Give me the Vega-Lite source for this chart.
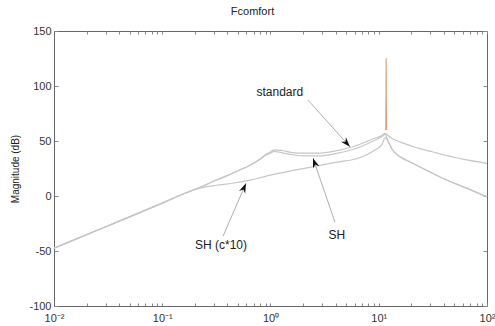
{
  "$schema": "https://vega.github.io/schema/vega-lite/v6.json",
  "width": 433,
  "height": 275,
  "autosize": "none",
  "padding": {"left": 54, "top": 31, "right": 8, "bottom": 20},
  "background": "white",
  "title": {"text": "Fcomfort", "fontSize": 11, "fontWeight": "normal", "font": "Liberation Sans", "color": "#222", "anchor": "middle", "dx": -18, "offset": 8},
  "config": {
    "view": {"stroke": "#666", "strokeWidth": 1},
    "font": "Liberation Sans",
    "axis": {"labelFont": "Liberation Sans", "labelFontSize": 10, "labelColor": "#333", "tickColor": "#888", "domainColor": "#666", "grid": false, "titleFont": "Liberation Sans", "titleFontWeight": "normal", "titleFontSize": 10, "titleColor": "#222"}
  },
  "datasets": {
    "curves": [
      {"series": "standard", "f": 0.01, "dB": -47.5},
      {"series": "standard", "f": 0.0316, "dB": -27},
      {"series": "standard", "f": 0.1, "dB": -6.5},
      {"series": "standard", "f": 0.158, "dB": 2},
      {"series": "standard", "f": 0.224, "dB": 8},
      {"series": "standard", "f": 0.316, "dB": 14.5},
      {"series": "standard", "f": 0.398, "dB": 18.5},
      {"series": "standard", "f": 0.501, "dB": 23},
      {"series": "standard", "f": 0.646, "dB": 28},
      {"series": "standard", "f": 0.794, "dB": 33.5},
      {"series": "standard", "f": 0.9, "dB": 37.5},
      {"series": "standard", "f": 1.0, "dB": 40},
      {"series": "standard", "f": 1.072, "dB": 42},
      {"series": "standard", "f": 1.259, "dB": 41.5},
      {"series": "standard", "f": 1.585, "dB": 39.5},
      {"series": "standard", "f": 1.995, "dB": 39},
      {"series": "standard", "f": 2.818, "dB": 39},
      {"series": "standard", "f": 3.981, "dB": 41},
      {"series": "standard", "f": 5.623, "dB": 44.5},
      {"series": "standard", "f": 7.079, "dB": 48},
      {"series": "standard", "f": 8.913, "dB": 52},
      {"series": "standard", "f": 10.72, "dB": 55},
      {"series": "standard", "f": 11.48, "dB": 57},
      {"series": "standard", "f": 12.16, "dB": 55},
      {"series": "standard", "f": 13.18, "dB": 52.5},
      {"series": "standard", "f": 15.85, "dB": 49},
      {"series": "standard", "f": 19.95, "dB": 45.5},
      {"series": "standard", "f": 23.99, "dB": 43},
      {"series": "standard", "f": 31.62, "dB": 40},
      {"series": "standard", "f": 39.81, "dB": 37.5},
      {"series": "standard", "f": 50.12, "dB": 35},
      {"series": "standard", "f": 63.1, "dB": 33},
      {"series": "standard", "f": 100, "dB": 29.6},
      {"series": "SH", "f": 0.01, "dB": -47.5},
      {"series": "SH", "f": 0.0316, "dB": -27},
      {"series": "SH", "f": 0.1, "dB": -6.5},
      {"series": "SH", "f": 0.158, "dB": 2},
      {"series": "SH", "f": 0.224, "dB": 8},
      {"series": "SH", "f": 0.316, "dB": 14.5},
      {"series": "SH", "f": 0.398, "dB": 18.5},
      {"series": "SH", "f": 0.501, "dB": 23},
      {"series": "SH", "f": 0.646, "dB": 28},
      {"series": "SH", "f": 0.794, "dB": 33},
      {"series": "SH", "f": 0.9, "dB": 37},
      {"series": "SH", "f": 1.0, "dB": 39},
      {"series": "SH", "f": 1.072, "dB": 40.5},
      {"series": "SH", "f": 1.259, "dB": 39.5},
      {"series": "SH", "f": 1.585, "dB": 37.5},
      {"series": "SH", "f": 1.995, "dB": 36.5},
      {"series": "SH", "f": 2.818, "dB": 36.5},
      {"series": "SH", "f": 3.981, "dB": 38.5},
      {"series": "SH", "f": 5.623, "dB": 42},
      {"series": "SH", "f": 7.079, "dB": 45.5},
      {"series": "SH", "f": 8.913, "dB": 50},
      {"series": "SH", "f": 10.72, "dB": 54},
      {"series": "SH", "f": 11.48, "dB": 56},
      {"series": "SH", "f": 12.16, "dB": 50},
      {"series": "SH", "f": 13.18, "dB": 43},
      {"series": "SH", "f": 15.85, "dB": 35.5},
      {"series": "SH", "f": 19.95, "dB": 30.5},
      {"series": "SH", "f": 28.18, "dB": 23},
      {"series": "SH", "f": 39.81, "dB": 15.7},
      {"series": "SH", "f": 63.1, "dB": 7.6},
      {"series": "SH", "f": 100, "dB": -0.8},
      {"series": "SH (c*10)", "f": 0.01, "dB": -47.5},
      {"series": "SH (c*10)", "f": 0.0316, "dB": -27},
      {"series": "SH (c*10)", "f": 0.1, "dB": -6.5},
      {"series": "SH (c*10)", "f": 0.158, "dB": 2},
      {"series": "SH (c*10)", "f": 0.2, "dB": 5.8},
      {"series": "SH (c*10)", "f": 0.251, "dB": 8.3},
      {"series": "SH (c*10)", "f": 0.316, "dB": 9.8},
      {"series": "SH (c*10)", "f": 0.447, "dB": 11.6},
      {"series": "SH (c*10)", "f": 0.646, "dB": 14.4},
      {"series": "SH (c*10)", "f": 0.794, "dB": 16.5},
      {"series": "SH (c*10)", "f": 1.0, "dB": 19},
      {"series": "SH (c*10)", "f": 1.585, "dB": 23},
      {"series": "SH (c*10)", "f": 2.455, "dB": 26.6},
      {"series": "SH (c*10)", "f": 3.981, "dB": 30.5},
      {"series": "SH (c*10)", "f": 6.761, "dB": 35},
      {"series": "SH (c*10)", "f": 8.913, "dB": 41},
      {"series": "SH (c*10)", "f": 10.72, "dB": 47},
      {"series": "SH (c*10)", "f": 11.48, "dB": 53},
      {"series": "SH (c*10)", "f": 12.16, "dB": 50},
      {"series": "SH (c*10)", "f": 13.18, "dB": 43},
      {"series": "SH (c*10)", "f": 15.85, "dB": 35.5},
      {"series": "SH (c*10)", "f": 19.95, "dB": 30.5},
      {"series": "SH (c*10)", "f": 28.18, "dB": 23},
      {"series": "SH (c*10)", "f": 39.81, "dB": 15.7},
      {"series": "SH (c*10)", "f": 63.1, "dB": 7.6},
      {"series": "SH (c*10)", "f": 100, "dB": -0.8},
      {"series": "resonance", "f": 11.6, "dB": 60},
      {"series": "resonance", "f": 11.67, "dB": 90},
      {"series": "resonance", "f": 11.7, "dB": 125},
      {"series": "resonance", "f": 11.73, "dB": 90},
      {"series": "resonance", "f": 11.8, "dB": 60}
    ],
    "labels": [
      {"label": "standard", "f": 1.22, "dB": 94.4},
      {"label": "SH", "f": 4.11, "dB": -35.7},
      {"label": "SH (c*10)", "f": 0.349, "dB": -44.8}
    ],
    "arrows": [
      {"label": "standard", "f1": 2.22, "db1": 87.2, "f2": 5.42, "db2": 44.7},
      {"label": "SH", "f1": 3.94, "db1": -23.8, "f2": 2.47, "db2": 34.4},
      {"label": "SH (c*10)", "f1": 0.364, "db1": -36.6, "f2": 0.594, "db2": 11.6}
    ]
  },
  "resolve": {"axis": {"x": "independent", "y": "independent"}},
  "layer": [
    {
      "data": {"name": "curves"},
      "mark": {"type": "line", "strokeWidth": 1.2, "interpolate": "monotone"},
      "encoding": {
        "x": {"field": "f", "type": "quantitative", "scale": {"type": "log", "domain": [0.01, 100], "nice": false},
          "axis": {"orient": "bottom", "title": null, "values": [0.01,0.02,0.03,0.04,0.05,0.06,0.07,0.08,0.09,0.1,0.2,0.3,0.4,0.5,0.6,0.7,0.8,0.9,1,2,3,4,5,6,7,8,9,10,20,30,40,50,60,70,80,90,100],
            "labelExpr": "datum.value == 0.01 ? '10⁻²' : datum.value == 0.1 ? '10⁻¹' : datum.value == 1 ? '10⁰' : datum.value == 10 ? '10¹' : datum.value == 100 ? '10²' : ''",
            "tickSize": -3, "labelPadding": 9, "labelFontSize": 11, "labelOverlap": false, "labelFlush": false}},
        "y": {"field": "dB", "type": "quantitative", "scale": {"domain": [-100, 150], "nice": false},
          "axis": {"orient": "left", "title": "Magnitude (dB)", "values": [-100,-50,0,50,100,150], "labelExpr": "'' + datum.value", "tickSize": -4, "labelPadding": 7, "labelFontSize": 11, "titlePadding": 8}},
        "color": {"field": "series", "type": "nominal", "scale": {"domain": ["standard", "SH", "SH (c*10)", "resonance"], "range": ["#c6c6c6", "#c6c6c6", "#c6c6c6", "#dba37c"]}, "legend": null},
        "order": {"field": "series", "sort": "descending"}
      }
    },
    {
      "data": {"name": "curves"},
      "mark": {"type": "line", "opacity": 0},
      "encoding": {
        "x": {"field": "f", "type": "quantitative", "axis": {"orient": "top", "title": null, "labels": false, "domain": false, "tickSize": -3, "values": [0.01,0.02,0.03,0.04,0.05,0.06,0.07,0.08,0.09,0.1,0.2,0.3,0.4,0.5,0.6,0.7,0.8,0.9,1,2,3,4,5,6,7,8,9,10,20,30,40,50,60,70,80,90,100]}},
        "y": {"field": "dB", "type": "quantitative", "axis": {"orient": "right", "title": null, "labels": false, "domain": false, "tickSize": -4, "values": [-100,-50,0,50,100,150]}},
        "detail": {"field": "series"}
      }
    },
    {
      "data": {"name": "arrows"},
      "mark": {"type": "rule", "color": "#999", "strokeWidth": 0.8},
      "encoding": {
        "x": {"field": "f1", "type": "quantitative", "axis": null},
        "y": {"field": "db1", "type": "quantitative", "axis": null},
        "x2": {"field": "f2"},
        "y2": {"field": "db2"}
      }
    },
    {
      "data": {"name": "arrows"},
      "transform": [{"filter": "datum.label == 'standard'"}],
      "mark": {"type": "point", "shape": "M0,0L-0.55,1.6L0,1.1L0.55,1.6Z", "filled": true, "color": "#111", "opacity": 1, "size": 150, "angle": 138},
      "encoding": {"x": {"field": "f2", "type": "quantitative", "axis": null}, "y": {"field": "db2", "type": "quantitative", "axis": null}}
    },
    {
      "data": {"name": "arrows"},
      "transform": [{"filter": "datum.label == 'SH'"}],
      "mark": {"type": "point", "shape": "M0,0L-0.55,1.6L0,1.1L0.55,1.6Z", "filled": true, "color": "#111", "opacity": 1, "size": 150, "angle": 341},
      "encoding": {"x": {"field": "f2", "type": "quantitative", "axis": null}, "y": {"field": "db2", "type": "quantitative", "axis": null}}
    },
    {
      "data": {"name": "arrows"},
      "transform": [{"filter": "datum.label == 'SH (c*10)'"}],
      "mark": {"type": "point", "shape": "M0,0L-0.55,1.6L0,1.1L0.55,1.6Z", "filled": true, "color": "#111", "opacity": 1, "size": 150, "angle": 23.5},
      "encoding": {"x": {"field": "f2", "type": "quantitative", "axis": null}, "y": {"field": "db2", "type": "quantitative", "axis": null}}
    },
    {
      "data": {"name": "labels"},
      "mark": {"type": "text", "font": "Liberation Sans", "fontSize": 12, "color": "#222", "align": "center", "baseline": "middle"},
      "encoding": {
        "x": {"field": "f", "type": "quantitative", "axis": null},
        "y": {"field": "dB", "type": "quantitative", "axis": null},
        "text": {"field": "label"}
      }
    }
  ]
}
